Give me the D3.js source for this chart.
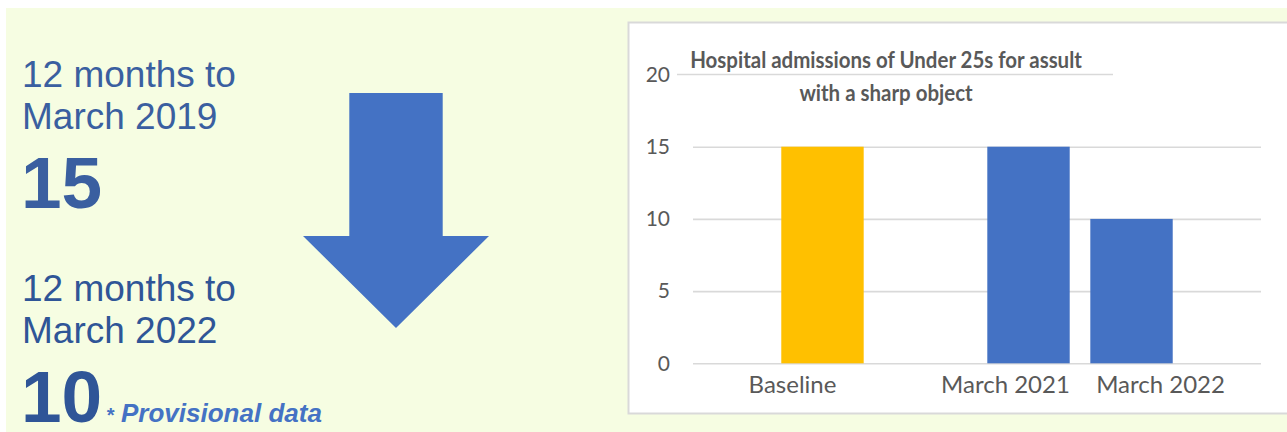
<!DOCTYPE html>
<html>
<head>
<meta charset="utf-8">
<script src="https://cdn.jsdelivr.net/npm/d3@7"></script>
<style>
  html, body { margin: 0; padding: 0; background: #ffffff; }
  svg { display: block; }
</style>
</head>
<body>
<svg id="chart" width="1287" height="432"></svg>
<script>
// ---- data ----
const periodLabels = ["March 2019", "March 2022"];
const periodTotals = [15, 10];
const categories = ["Baseline", "gap", "March 2021", "March 2022"];
const tickLabels = ["Baseline", "", "March 2021", "March 2022"];
const values = [15, null, 15, 10];
const seriesKind = ["baseline", "none", "actual", "actual"];
const yTicks = [0, 5, 10, 15, 20];
const chartTitle = ["Hospital admissions of Under 25s for assult", "with a sharp object"];

// ---- styles ----
const PALE = "#f6fde2";
const TEXT_BLUE = "#3a5fa0";
const TEXT_BLUE_DARK = "#2f5597";
const ACCENT = "#4472c4";
const GOLD = "#ffc000";
const GREY_TEXT = "#595959";
const GRID = "#d9d9d9";

const svg = d3.select("#chart");

// page panel
svg.append("rect").attr("x", 6).attr("y", 8).attr("width", 1281).attr("height", 424).attr("fill", PALE);

// ---- left summary ----
const left = svg.append("g").attr("font-family", "'Liberation Sans', Arial, sans-serif");
const blocks = [
  { top: 87, color: TEXT_BLUE },
  { top: 301, color: TEXT_BLUE_DARK }
];
blocks.forEach((b, i) => {
  left.append("text").attr("x", 22).attr("y", b.top).attr("font-size", 37)
    .attr("fill", b.color).text("12 months to");
  left.append("text").attr("x", 22).attr("y", b.top + 42).attr("font-size", 37)
    .attr("fill", b.color).text(periodLabels[i]);
  left.append("text").attr("x", 21).attr("y", b.top + 121).attr("font-size", 73)
    .attr("font-weight", "bold").attr("fill", b.color).text(periodTotals[i]);
});
const note = left.append("text").attr("x", 106).attr("y", 421.5)
  .attr("font-weight", "bold").attr("font-style", "italic").attr("fill", ACCENT);
note.append("tspan").attr("font-size", 20).text("*");
note.append("tspan").attr("font-size", 26).text(" Provisional data");

// down arrow between the two periods
const arrow = { cx: 396, top: 93, shaftHalf: 46.7, headY: 236, headHalf: 93, tipY: 328 };
svg.append("path")
  .attr("d", d3.line()([
    [arrow.cx - arrow.shaftHalf, arrow.top],
    [arrow.cx + arrow.shaftHalf, arrow.top],
    [arrow.cx + arrow.shaftHalf, arrow.headY],
    [arrow.cx + arrow.headHalf, arrow.headY],
    [arrow.cx, arrow.tipY],
    [arrow.cx - arrow.headHalf, arrow.headY],
    [arrow.cx - arrow.shaftHalf, arrow.headY]
  ]) + "Z")
  .attr("fill", ACCENT);

// ---- bar chart ----
svg.append("rect").attr("x", 628.5).attr("y", 22.5).attr("width", 670).attr("height", 391)
  .attr("fill", "#ffffff").attr("stroke", GRID).attr("stroke-width", 2);

const plot = { left: 693, right: 1261, top: 74.5, bottom: 363.3 };
const x = d3.scaleBand().domain(categories).range([plot.left, plot.right])
  .paddingInner(0.2).paddingOuter(0.857);
const y = d3.scaleLinear().domain([0, 20]).range([plot.bottom, plot.top]);

const chartFont = "Lato, 'Open Sans', sans-serif";

// gridlines + y labels
const yAxis = d3.axisLeft(y).tickValues(yTicks).tickSize(-(plot.right - plot.left)).tickPadding(23);
const gy = svg.append("g").attr("transform", `translate(${plot.left},0)`).call(yAxis);
gy.select(".domain").remove();
gy.selectAll(".tick line").attr("stroke", GRID).attr("stroke-width", 1.6);
// the title panel sits over the top gridline
gy.selectAll(".tick").filter(d => d === d3.max(yTicks)).select("line").remove();
gy.selectAll(".tick text").attr("fill", GREY_TEXT).attr("font-family", chartFont).attr("font-size", 21);

// bars
svg.append("g").selectAll("rect")
  .data(categories.map((c, i) => ({ c, v: values[i], kind: seriesKind[i] })).filter(d => d.v != null))
  .join("rect")
  .attr("x", d => x(d.c))
  .attr("width", x.bandwidth())
  .attr("y", d => y(d.v))
  .attr("height", d => y(0) - y(d.v))
  .attr("fill", d => d.kind === "baseline" ? GOLD : ACCENT);

// category labels (nudged sideways so the two March labels sit apart)
const labelNudge = { "Baseline": -30, "March 2021": -23, "March 2022": 29 };
svg.append("g").selectAll("text")
  .data(categories.map((c, i) => ({ c, label: tickLabels[i] })).filter(d => d.label))
  .join("text")
  .attr("x", d => x(d.c) + x.bandwidth() / 2 + labelNudge[d.c])
  .attr("y", 393)
  .attr("text-anchor", "middle")
  .attr("font-family", chartFont).attr("font-size", 24).attr("fill", GREY_TEXT)
  .text(d => d.label);

// title, with a rule beneath its first line
const titleCx = 886;
svg.append("line")
  .attr("x1", 677).attr("x2", 1113)
  .attr("y1", y(d3.max(yTicks))).attr("y2", y(d3.max(yTicks)))
  .attr("stroke", GRID).attr("stroke-width", 1.6);
const titleG = svg.append("g")
  .attr("transform", `translate(${titleCx},0) scale(0.91,1)`)
  .attr("font-family", chartFont).attr("font-weight", "bold")
  .attr("font-size", 22.5).attr("fill", GREY_TEXT).attr("text-anchor", "middle");
chartTitle.forEach((line, i) => {
  titleG.append("text").attr("x", 0).attr("y", 68 + i * 33).text(line);
});
</script>
</body>
</html>
